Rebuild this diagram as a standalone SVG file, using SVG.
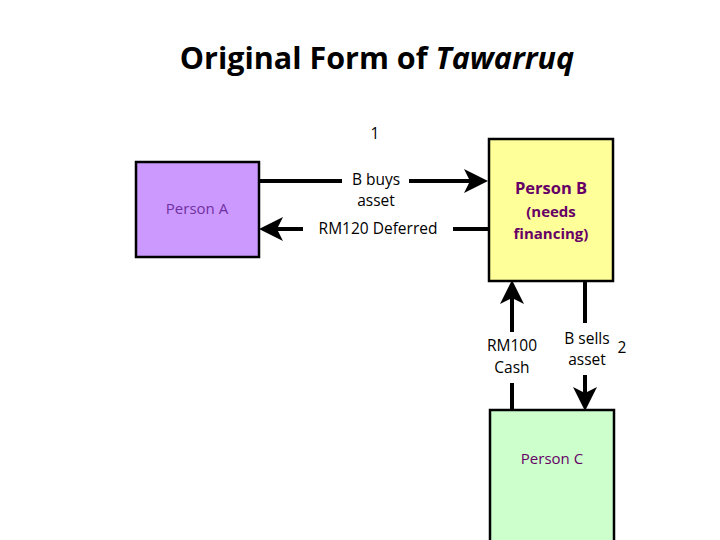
<svg xmlns="http://www.w3.org/2000/svg" width="720" height="540" viewBox="0 0 720 540">
<style>
.box{stroke:#000;stroke-width:2.5}
.lbl{font-family:"Open Sans","Liberation Sans",sans-serif;font-size:15.5px;fill:#000;text-anchor:middle}
.nl{font-family:"Open Sans","Liberation Sans",sans-serif;font-size:15px;fill:#7030a0;text-anchor:middle}
.bt{font-family:"Open Sans","Liberation Sans",sans-serif;font-weight:bold;fill:#660066;text-anchor:middle}
.conn{stroke:#000;stroke-width:4;fill:none}
</style>
<defs>
<marker id="ah" markerWidth="6" markerHeight="6" refX="5" refY="3" orient="auto" markerUnits="strokeWidth">
<path d="M0,0 L6,3 L0,6 L1.5,3 Z" fill="#000"/>
</marker>
</defs>
<rect width="720" height="540" fill="#fff"/>
<text x="377" y="69" font-family="'Open Sans','Liberation Sans',sans-serif" font-size="30.5" font-weight="bold" text-anchor="middle" fill="#000">Original Form of <tspan font-style="italic">Tawarruq</tspan></text>
<text class="lbl" x="375" y="139">1</text>
<g id="personA">
<rect class="box" x="136" y="162" width="123" height="95" fill="#cc99ff"/>
<text class="nl" x="197" y="214">Person A</text>
</g>
<g id="personB">
<rect class="box" x="489" y="139" width="124" height="142" fill="#ffff99"/>
<text class="bt" x="551" y="194" font-size="16.5">Person B</text>
<text class="bt" x="551" y="217" font-size="15">(needs</text>
<text class="bt" x="551" y="239" font-size="15">financing)</text>
</g>
<g id="personC">
<rect class="box" x="490" y="410" width="124" height="140" fill="#ccffcc"/>
<text class="nl" x="552" y="464" style="fill:#660066">Person C</text>
</g>
<g id="connectors">
<line class="conn" x1="260" y1="181" x2="342" y2="181"/>
<line class="conn" x1="409" y1="181" x2="484" y2="181" marker-end="url(#ah)"/>
<line class="conn" x1="489" y1="229" x2="453" y2="229"/>
<line class="conn" x1="303" y1="229" x2="263" y2="229" marker-end="url(#ah)"/>
<line class="conn" x1="512" y1="410" x2="512" y2="383"/>
<line class="conn" x1="512" y1="332" x2="512" y2="284" marker-end="url(#ah)"/>
<line class="conn" x1="585" y1="281" x2="585" y2="323"/>
<line class="conn" x1="585" y1="375" x2="585" y2="407" marker-end="url(#ah)"/>
<text class="lbl" x="376" y="185">B buys</text>
<text class="lbl" x="376" y="206">asset</text>
<text class="lbl" x="378" y="234">RM120 Deferred</text>
<text class="lbl" x="512" y="351">RM100</text>
<text class="lbl" x="512" y="373">Cash</text>
<text class="lbl" x="587" y="344">B sells</text>
<text class="lbl" x="587" y="365">asset</text>
<text class="lbl" x="622" y="353">2</text>
</g>
</svg>
